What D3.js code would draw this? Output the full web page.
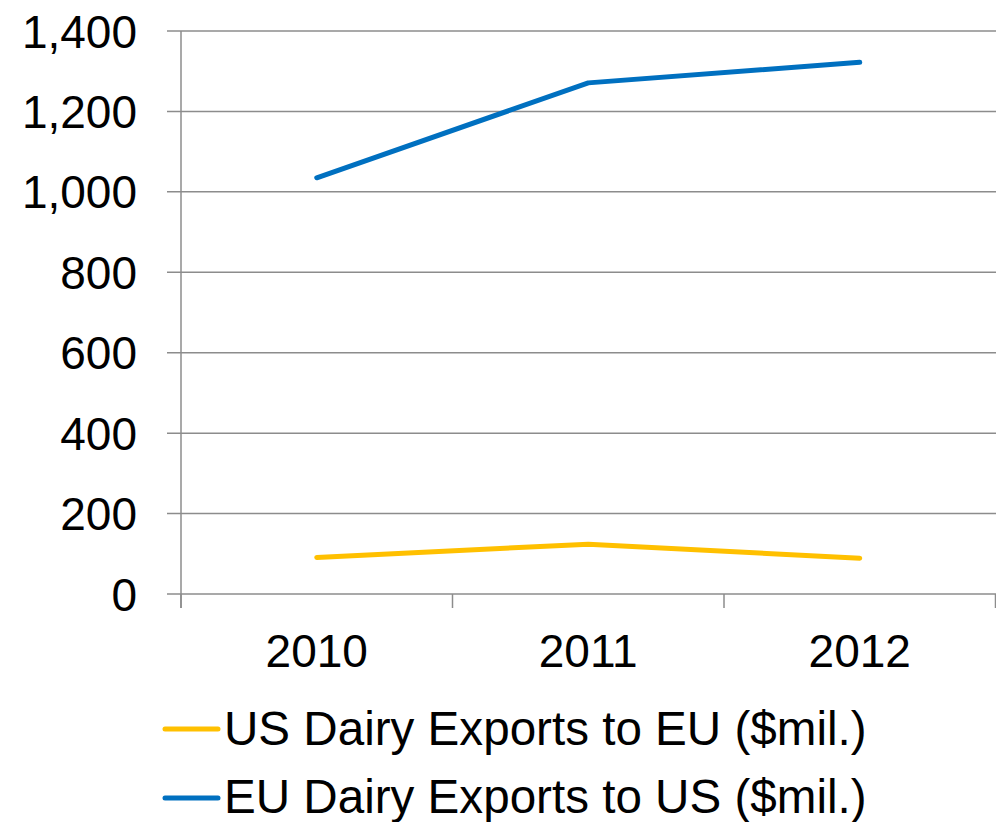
<!DOCTYPE html>
<html>
<head>
<meta charset="utf-8">
<script src="https://cdn.jsdelivr.net/npm/d3@7"></script>
<style>
  body { margin: 0; background: #fff; }
  text { font-family: "Liberation Sans", Arial, sans-serif; fill: #000; }
</style>
</head>
<body>
<div id="chart"></div>
<script>
// data
var years = ["2010", "2011", "2012"];
var usToEu = [91, 124, 89];
var euToUs = [1035, 1271, 1322];
var yTicks = [0, 200, 400, 600, 800, 1000, 1200, 1400];
var seriesNames = ["US Dairy Exports to EU ($mil.)", "EU Dairy Exports to US ($mil.)"];
var seriesColors = ["#ffc000", "#0070c0"];

var width = 996, height = 822;
var margin = {top: 31, right: 0, bottom: 227, left: 181};
var fontSize = 46;

var svg = d3.select("#chart").append("svg")
    .attr("width", width)
    .attr("height", height);

var x = d3.scaleBand().domain(years).range([margin.left, width - margin.right - 0.5]);
var y = d3.scaleLinear().domain([0, 1400]).range([height - margin.bottom - 1, margin.top]);

// gridlines
svg.append("g")
    .selectAll("line")
    .data(yTicks)
    .enter().append("line")
    .attr("x1", margin.left - 14)
    .attr("x2", width)
    .attr("y1", function(d) { return y(d); })
    .attr("y2", function(d) { return y(d); })
    .attr("stroke", "#8c8c8c")
    .attr("stroke-width", 1.5);

// y axis line
svg.append("line")
    .attr("x1", margin.left).attr("x2", margin.left)
    .attr("y1", y(1400)).attr("y2", y(0) + 14)
    .attr("stroke", "#8c8c8c")
    .attr("stroke-width", 1.5);

// x tick marks between categories
var xEdges = years.map(function(d) { return x(d); }).concat([x.range()[1]]);
svg.append("g")
    .selectAll("line")
    .data(xEdges)
    .enter().append("line")
    .attr("x1", function(d) { return d; })
    .attr("x2", function(d) { return d; })
    .attr("y1", y(0))
    .attr("y2", y(0) + 14)
    .attr("stroke", "#8c8c8c")
    .attr("stroke-width", 1.5);

// y labels
svg.append("g")
    .selectAll("text")
    .data(yTicks)
    .enter().append("text")
    .attr("x", 137)
    .attr("y", function(d) { return y(d); })
    .attr("dy", "0.36em")
    .attr("text-anchor", "end")
    .style("font-size", fontSize + "px")
    .text(d3.format(","));

// x labels
svg.append("g")
    .selectAll("text")
    .data(years)
    .enter().append("text")
    .attr("x", function(d) { return x(d) + x.bandwidth() / 2; })
    .attr("y", 667)
    .attr("text-anchor", "middle")
    .style("font-size", fontSize + "px")
    .text(function(d) { return d; });

// lines
var line = d3.line()
    .x(function(d, i) { return x(years[i]) + x.bandwidth() / 2; })
    .y(function(d) { return y(d); });

[usToEu, euToUs].forEach(function(s, i) {
    svg.append("path")
        .datum(s)
        .attr("d", line)
        .attr("fill", "none")
        .attr("stroke", seriesColors[i])
        .attr("stroke-width", 5)
        .attr("stroke-linecap", "round")
        .attr("stroke-linejoin", "round");
});

// legend
var legend = svg.append("g")
    .selectAll("g")
    .data(seriesNames)
    .enter().append("g")
    .attr("transform", function(d, i) { return "translate(0," + (729 + i * 69) + ")"; });

legend.append("line")
    .attr("x1", 165).attr("x2", 218)
    .attr("y1", 0).attr("y2", 0)
    .attr("stroke", function(d, i) { return seriesColors[i]; })
    .attr("stroke-width", 5)
    .attr("stroke-linecap", "round");

legend.append("text")
    .attr("x", 224)
    .attr("y", function(d, i) { return 16 - i; })
    .style("font-size", "47.6px")
    .text(function(d) { return d; });
</script>
</body>
</html>
